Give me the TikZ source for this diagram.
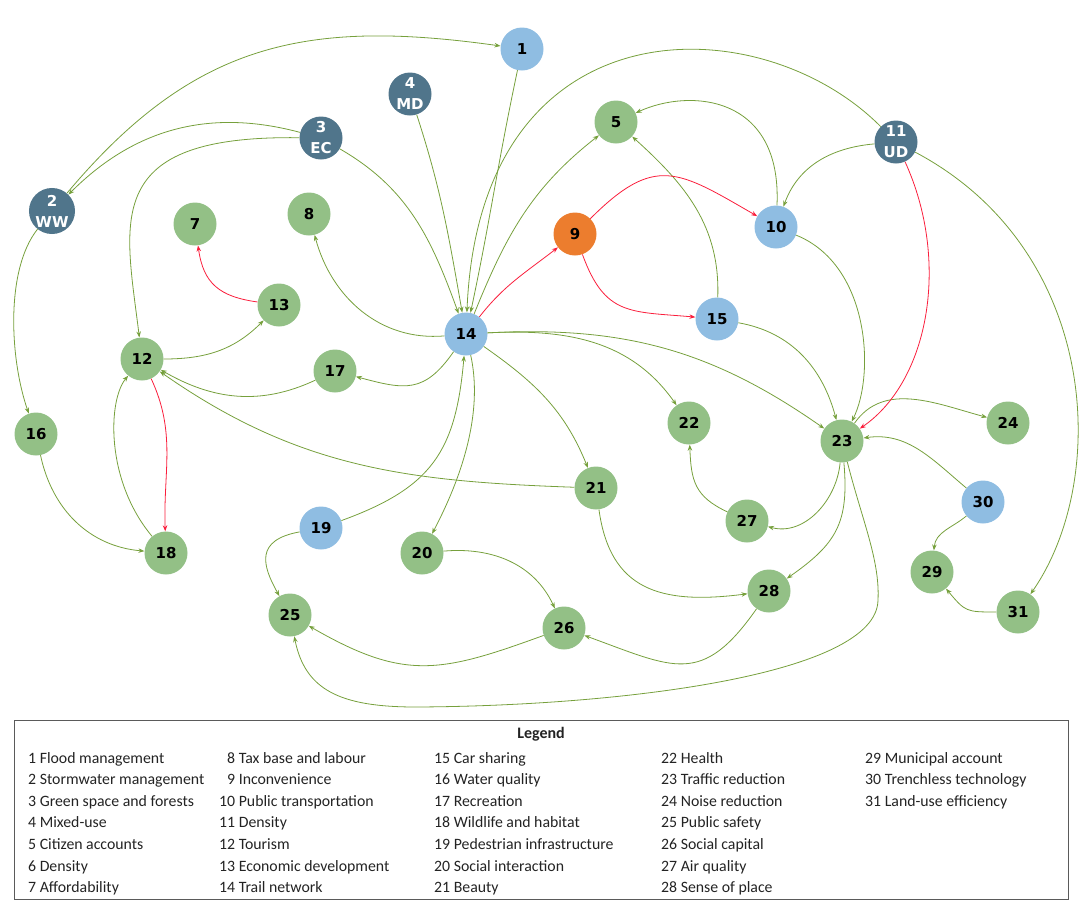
\documentclass[tikz,border=0pt]{standalone}
\usepackage{fontspec}
\setmainfont{Carlito}
\newfontfamily\nodefont{DejaVu Sans}
\usetikzlibrary{arrows.meta}
\definecolor{cLB}{RGB}{143,189,226}
\definecolor{cG}{RGB}{147,192,134}
\definecolor{cD}{RGB}{80,117,139}
\definecolor{cO}{RGB}{236,125,46}
\definecolor{cE}{RGB}{118,160,60}
\definecolor{cR}{RGB}{250,30,60}
\definecolor{cBox}{RGB}{90,90,90}
\definecolor{cTxt}{RGB}{35,35,35}
\begin{document}
\begin{tikzpicture}[x=1pt,y=1pt,
  base/.style={circle,minimum size=43pt,inner sep=0pt,font=\nodefont\bfseries\fontsize{15}{21}\selectfont},
  gnode/.style={base,fill=cG},
  lnode/.style={base,fill=cLB},
  onode/.style={base,fill=cO},
  dnode/.style={base,fill=cD,text=white,align=center},
  garr/.style={draw=cE,line width=0.8pt,-{Stealth[length=6pt,width=4.5pt]}},
  rarr/.style={draw=cR,line width=0.8pt,-{Stealth[length=6pt,width=4.5pt]}},
  leg/.style={anchor=base west,inner sep=0pt,text=cTxt,font=\fontsize{15.8}{19}\selectfont}
]
\useasboundingbox (0,0) rectangle (1084,-908);

% nodes
\node[lnode] (n1) at (522,-49) {1};
\node[dnode] (n2) at (52,-211) {2\\WW};
\node[dnode] (n3) at (321,-138) {3\\EC};
\node[dnode] (n4) at (410,-94) {4\\MD};
\node[gnode] (n5) at (616,-122) {5};
\node[gnode] (n7) at (195,-224) {7};
\node[gnode] (n8) at (309,-214) {8};
\node[onode] (n9) at (575,-234) {9};
\node[lnode] (n10) at (776,-227) {10};
\node[dnode] (n11) at (896,-142) {11\\UD};
\node[gnode] (n12) at (142,-359) {12};
\node[gnode] (n13) at (279,-305) {13};
\node[lnode] (n14) at (466,-334) {14};
\node[lnode] (n15) at (717,-319) {15};
\node[gnode] (n16) at (36,-434) {16};
\node[gnode] (n17) at (335,-371) {17};
\node[gnode] (n18) at (166,-553) {18};
\node[lnode] (n19) at (321,-528) {19};
\node[gnode] (n20) at (422,-553) {20};
\node[gnode] (n21) at (596,-488) {21};
\node[gnode] (n22) at (689,-423) {22};
\node[gnode] (n23) at (842,-441) {23};
\node[gnode] (n24) at (1008,-423) {24};
\node[gnode] (n25) at (290,-615) {25};
\node[gnode] (n26) at (564,-628) {26};
\node[gnode] (n27) at (747,-521) {27};
\node[gnode] (n28) at (769,-591) {28};
\node[gnode] (n29) at (932,-572) {29};
\node[lnode] (n30) at (983,-502) {30};
\node[gnode] (n31) at (1018,-612) {31};
\coordinate (c23a) at (878,-600);
\coordinate (c23b) at (416,-707);

% green connectors
\draw[garr] (n2) to[out=50,in=172,looseness=1.1] (n1);
\draw[garr] (n3) to[out=165,in=45] (n2);
\draw[garr] (n3) .. controls (100,-135) and (125,-220) .. (n12);
\draw[garr] (n3) to[out=-30,in=110] (n14);
\draw[garr] (n4) to[out=-72,in=100] (n14);
\draw[garr] (n1) to[out=-102,in=78] (n14);
\draw[garr] (n11) .. controls (760,-5) and (480,0) .. (n14);
\draw[garr] (n14) to[out=68,in=-142] (n5);
\draw[garr] (n10) .. controls (782,-95) and (690,-88) .. (n5);
\draw[garr] (n15) to[out=88,in=-42] (n5);
\draw[garr] (n11) to[out=185,in=70] (n10);
\draw[garr] (n11) .. controls (1100,-250) and (1110,-480) .. (n31);
\draw[garr] (n10) .. controls (870,-265) and (875,-375) .. (n23);
\draw[garr] (n15) to[out=-10,in=105] (n23);
\draw[garr] (n14) to[out=3,in=145] (n23);
\draw[garr] (n14) to[out=3,in=125] (n22);
\draw[garr] (n14) to[out=-35,in=112] (n21);
\draw[garr] (n14) .. controls (485,-420) and (455,-490) .. (n20);
\draw[garr] (n14) to[out=185,in=-75] (n8);
\draw[garr] (n14) to[out=-125,in=-15,looseness=1.3] (n17);
\draw[garr] (n17) to[out=-155,in=-30] (n12);
\draw[garr] (n21) to[out=178,in=-35] (n12);
\draw[garr] (n12) to[out=0,in=-135] (n13);
\draw[garr] (n18) .. controls (105,-480) and (108,-400) .. (n12);
\draw[garr] (n2) .. controls (5,-270) and (10,-360) .. (n16);
\draw[garr] (n16) to[out=-78,in=175] (n18);
\draw[garr] (n19) to[out=20,in=-95,looseness=1.2] (n14);
\draw[garr] (n19) .. controls (255,-540) and (262,-565) .. (n25);
\draw[garr] (n20) to[out=5,in=115] (n26);
\draw[garr] (n26) to[out=-160,in=-30,looseness=1.2] (n25);
\draw[garr] (n23) .. controls (862,-520) and (880,-560) .. (c23a)
  .. controls (877,-675) and (620,-706) .. (c23b)
  .. controls (340,-707) and (305,-690) .. (n25);
\draw[garr] (n28) to[out=-125,in=-20,looseness=1.4] (n26);
\draw[garr] (n21) .. controls (610,-590) and (660,-605) .. (n28);
\draw[garr] (n23) to[out=-95,in=-15] (n27);
\draw[garr] (n23) to[out=-85,in=35,looseness=1.2] (n28);
\draw[garr] (n27) to[out=155,in=-88,looseness=1.2] (n22);
\draw[garr] (n23) to[out=55,in=165] (n24);
\draw[garr] (n30) to[out=140,in=8] (n23);
\draw[garr] (n30) to[out=-140,in=85] (n29);
\draw[garr] (n31) to[out=180,in=-50,looseness=1.4] (n29);

% red connectors
\draw[rarr] (n13) to[out=172,in=-82,looseness=1.2] (n7);
\draw[rarr] (n12) to[out=-65,in=92] (n18);
\draw[rarr] (n14) to[out=52,in=-142] (n9);
\draw[rarr] (n9) to[out=45,in=150,looseness=1.4] (n10);
\draw[rarr] (n9) to[out=-70,in=175,looseness=1.3] (n15);
\draw[rarr] (n11) .. controls (950,-260) and (930,-380) .. (n23);

% legend
\draw[cBox,line width=1pt] (14,-720) rectangle (1068,-899);
\node[anchor=base,inner sep=0pt,text=cTxt,font=\bfseries\fontsize{16}{19}\selectfont] (legtitle) at (541,-738) {Legend};
\foreach \txt [count=\i from 0] in {1 Flood management,2 Stormwater management,3 Green space and forests,4 Mixed-use,5 Citizen accounts,6 Density,7 Affordability}
  \node[leg] (la\i) at (28,{-763-21.6*\i}) {\txt};
\foreach \txt [count=\i from 0] in {\phantom{1}8 Tax base and labour,\phantom{1}9 Inconvenience,10 Public transportation,11 Density,12 Tourism,13 Economic development,14 Trail network}
  \node[leg] (lb\i) at (219,{-763-21.6*\i}) {\txt};
\foreach \txt [count=\i from 0] in {15 Car sharing,16 Water quality,17 Recreation,18 Wildlife and habitat,19 Pedestrian infrastructure,20 Social interaction,21 Beauty}
  \node[leg] (lc\i) at (434,{-763-21.6*\i}) {\txt};
\foreach \txt [count=\i from 0] in {22 Health,23 Traffic reduction,24 Noise reduction,25 Public safety,26 Social capital,27 Air quality,28 Sense of place}
  \node[leg] (ld\i) at (661,{-763-21.6*\i}) {\txt};
\foreach \txt [count=\i from 0] in {29 Municipal account,30 Trenchless technology,31 Land-use efficiency}
  \node[leg] (le\i) at (865,{-763-21.6*\i}) {\txt};
\end{tikzpicture}
\end{document}
